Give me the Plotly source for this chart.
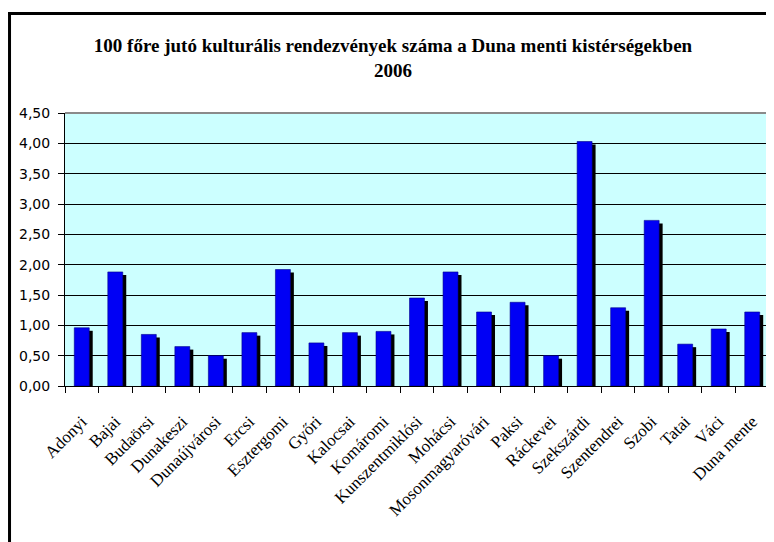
import plotly.graph_objects as go

# Kistérségek és a 100 főre jutó kulturális rendezvények száma (2006)
kisterseg = [
    "Adonyi", "Bajai", "Budaörsi", "Dunakeszi", "Dunaújvárosi", "Ercsi",
    "Esztergomi", "Győri", "Kalocsai", "Komáromi", "Kunszentmiklósi",
    "Mohácsi", "Mosonmagyaróvári", "Paksi", "Ráckevei", "Szekszárdi",
    "Szentendrei", "Szobi", "Tatai", "Váci", "Duna mente",
]
rendezvenyek = [
    0.96, 1.88, 0.85, 0.65, 0.50, 0.88,
    1.92, 0.71, 0.88, 0.90, 1.45,
    1.88, 1.22, 1.38, 0.50, 4.03,
    1.29, 2.73, 0.69, 0.94, 1.22,
]
y_ticks = [0, 0.5, 1, 1.5, 2, 2.5, 3, 3.5, 4, 4.5]

BAR_W = 0.446
SHADOW_DX = 0.104   # ~3.5 px to the right
SHADOW_DY = 0.05    # ~3 px lower

fig = go.Figure()

# black "3D" shadow behind each bar
fig.add_trace(go.Bar(
    x=kisterseg,
    y=[v - SHADOW_DY for v in rendezvenyek],
    width=BAR_W,
    offset=-BAR_W / 2 + SHADOW_DX,
    marker=dict(color="#000000", line=dict(width=0)),
    hoverinfo="skip",
))

fig.add_trace(go.Bar(
    x=kisterseg,
    y=rendezvenyek,
    width=BAR_W,
    offset=-BAR_W / 2,
    marker=dict(color="#0000f5", line=dict(color="#00008a", width=0.6)),
))

# the page body adds an 8px margin, so the figure is 8px smaller each way
fig.update_layout(
    width=766,
    height=534,
    barmode="overlay",
    showlegend=False,
    separators=",.",
    paper_bgcolor="white",
    plot_bgcolor="#ccffff",
    margin=dict(l=57, r=5, t=105, b=156),
    title=dict(
        text="<b>100 főre jutó kulturális rendezvények száma a Duna menti kistérségekben<br>2006</b>",
        x=0.5026, xanchor="center",
        y=0.9176, yanchor="middle",
        font=dict(family="Liberation Serif", size=19, color="#000000"),
    ),
    font=dict(family="Liberation Serif", color="#000000"),
)

fig.update_xaxes(
    range=[-0.5, len(kisterseg) - 0.5],
    tickangle=-45,
    tickson="boundaries",
    ticks="outside",
    ticklen=6,
    tickcolor="#000000",
    ticklabelstandoff=18,
    tickfont=dict(family="Liberation Serif", size=17, color="#000000"),
    showline=True,
    linecolor="#000000",
    linewidth=1,
    showgrid=False,
)

fig.update_yaxes(
    range=[0, 4.5],
    tickvals=y_ticks,
    tickformat=".2f",
    ticks="outside",
    ticklen=6,
    tickcolor="#000000",
    ticklabelstandoff=5,
    tickfont=dict(family="DejaVu Sans", size=14, color="#000000"),
    showline=True,
    linecolor="#000000",
    linewidth=1,
    showgrid=True,
    gridcolor="#000000",
    gridwidth=1,
    zeroline=False,
)

# grey plot-area border on top and right
fig.add_shape(type="line", xref="paper", yref="paper", x0=0, x1=1, y0=1, y1=1,
              line=dict(color="#8a8a8a", width=2), layer="above")
fig.add_shape(type="line", xref="paper", yref="paper", x0=1, x1=1, y0=0, y1=1,
              line=dict(color="#8a8a8a", width=2), layer="above")

# chart-area frame (extends past the right and bottom edges)
fig.add_shape(type="rect", xref="paper", yref="paper",
              x0=-0.0788, x1=1.03, y0=-0.7, y1=1.3645,
              line=dict(color="#000000", width=3), layer="above")

fig.write_html("out.html")
